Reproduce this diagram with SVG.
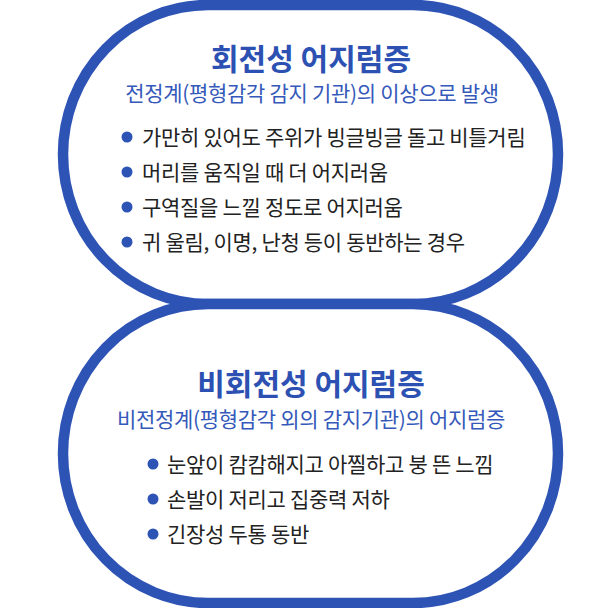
<svg xmlns="http://www.w3.org/2000/svg" width="611" height="608" viewBox="0 0 611 608">
<style>
.shape{fill:#fff;stroke:#2d53b5;stroke-width:10.5}
.title{font-family:"Noto Sans CJK KR","Noto Sans",sans-serif;font-weight:700;font-size:30px;fill:#2c51b2;text-anchor:middle}
.sub{font-family:"Noto Sans CJK KR","Noto Sans",sans-serif;font-weight:400;font-size:21px;fill:#3559ba;text-anchor:middle;letter-spacing:-0.3px}
.item{font-family:"Noto Sans CJK KR","Noto Sans",sans-serif;font-weight:400;font-size:21px;fill:#222;letter-spacing:-0.3px}
.dot{fill:#2d53b5}
</style>
<rect width="611" height="608" fill="#fff"/>
<g id="rotational">
<path class="shape" d="M208 5H413A145 149.5 0 0 1 558 154.5A145 149.5 0 0 1 413 304H208A145 149.5 0 0 1 63 154.5A145 149.5 0 0 1 208 5Z"/>
<text class="title" x="311" y="70">회전성 어지럼증</text>
<text class="sub" x="312" y="101">전정계(평형감각 감지 기관)의 이상으로 발생</text>
<circle class="dot" cx="127" cy="137" r="5.5"/>
<text class="item" x="142" y="145">가만히 있어도 주위가 빙글빙글 돌고 비틀거림</text>
<circle class="dot" cx="127" cy="172" r="5.5"/>
<text class="item" x="142" y="180">머리를 움직일 때 더 어지러움</text>
<circle class="dot" cx="127" cy="207" r="5.5"/>
<text class="item" x="142" y="215">구역질을 느낄 정도로 어지러움</text>
<circle class="dot" cx="127" cy="242" r="5.5"/>
<text class="item" x="142" y="250">귀 울림, 이명, 난청 등이 동반하는 경우</text>
</g>
<g id="non-rotational">
<path class="shape" d="M208 304H413A145 149.5 0 0 1 558 453.5A145 149.5 0 0 1 413 603H208A145 149.5 0 0 1 63 453.5A145 149.5 0 0 1 208 304Z"/>
<text class="title" x="311" y="395">비회전성 어지럼증</text>
<text class="sub" x="311" y="427">비전정계(평형감각 외의 감지기관)의 어지럼증</text>
<circle class="dot" cx="153" cy="464" r="5.5"/>
<text class="item" x="167" y="472">눈앞이 캄캄해지고 아찔하고 붕 뜬 느낌</text>
<circle class="dot" cx="153" cy="499" r="5.5"/>
<text class="item" x="167" y="507">손발이 저리고 집중력 저하</text>
<circle class="dot" cx="153" cy="534" r="5.5"/>
<text class="item" x="167" y="542">긴장성 두통 동반</text>
</g>
</svg>
